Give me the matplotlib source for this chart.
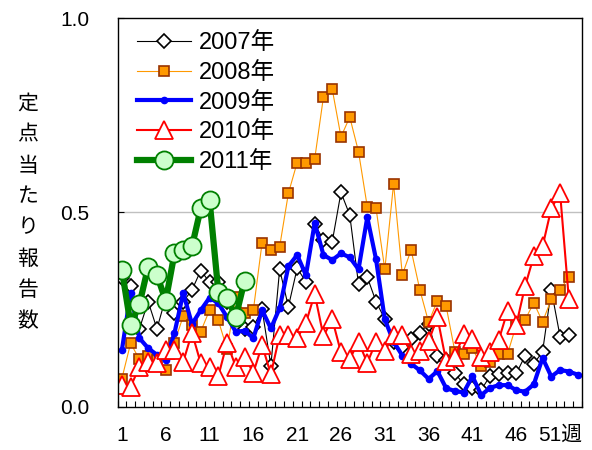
import matplotlib
matplotlib.use('Agg')
import matplotlib.pyplot as plt
import numpy as np

plt.rcParams['font.family'] = ['Liberation Sans', 'Noto Sans CJK JP', 'DejaVu Sans']

# 週ごとの定点当たり報告数
y2007 = [0.33, 0.31, 0.20, 0.27, 0.20, 0.28, 0.24, 0.27, 0.30, 0.35,
         0.32, 0.32, 0.27, 0.23, 0.20, 0.205, 0.25, 0.105, 0.353, 0.257,
         0.356, 0.321, 0.469, 0.429, 0.424, 0.551, 0.493, 0.315, 0.333, 0.270,
         0.225, 0.165, 0.152, 0.175, 0.19, 0.213, 0.13, 0.12, 0.085, 0.058,
         0.048, 0.043, 0.078, 0.083, 0.085, 0.085, 0.13, 0.11, 0.141, 0.30,
         0.18, 0.185]
y2008 = [0.072, 0.163, 0.121, 0.130, 0.12, 0.095, 0.164, 0.233, 0.21, 0.193,
         0.248, 0.222, 0.148, 0.283, 0.24, 0.248, 0.422, 0.403, 0.411, 0.549,
         0.628, 0.626, 0.637, 0.797, 0.817, 0.694, 0.745, 0.656, 0.514, 0.510,
         0.353, 0.573, 0.339, 0.403, 0.300, 0.217, 0.272, 0.258, 0.141, 0.135,
         0.150, 0.104, 0.115, 0.135, 0.135, 0.210, 0.223, 0.267, 0.218, 0.276,
         0.300, 0.334]
y2009 = [0.145, 0.293, 0.176, 0.150, 0.133, 0.12, 0.189, 0.292, 0.212, 0.248,
         0.28, 0.266, 0.23, 0.192, 0.195, 0.176, 0.248, 0.201, 0.253, 0.361,
         0.390, 0.338, 0.472, 0.390, 0.377, 0.394, 0.384, 0.353, 0.487, 0.379,
         0.224, 0.167, 0.131, 0.11, 0.093, 0.071, 0.091, 0.047, 0.040, 0.036,
         0.078, 0.029, 0.048, 0.055, 0.055, 0.042, 0.038, 0.057, 0.125, 0.077,
         0.094, 0.090, 0.082]
y2010 = [0.055, 0.051, 0.102, 0.115, 0.113, 0.145, 0.145, 0.115, 0.190, 0.111,
         0.102, 0.078, 0.164, 0.102, 0.128, 0.087, 0.158, 0.083, 0.184, 0.184,
         0.176, 0.215, 0.290, 0.181, 0.225, 0.139, 0.122, 0.167, 0.112, 0.167,
         0.143, 0.184, 0.185, 0.136, 0.143, 0.168, 0.23, 0.116, 0.127, 0.187,
         0.173, 0.127, 0.140, 0.171, 0.246, 0.21, 0.309, 0.387, 0.412, 0.510,
         0.550, 0.276]
y2011 = [0.352, 0.21, 0.263, 0.36, 0.339, 0.272, 0.394, 0.403, 0.412, 0.51,
         0.532, 0.296, 0.279, 0.231, 0.324]

week_ticks = [1, 6, 11, 16, 21, 26, 31, 36, 41, 46, 51]
week_labels = ['1', '6', '11', '16', '21', '26', '31', '36', '41', '46', '51週']
ylabel = '定点当たり報告数'

fig = plt.figure(figsize=(5.92, 4.5), dpi=100)
ax = fig.add_axes([117.5 / 592, 1 - 406.5 / 450, 464.5 / 592, 388.5 / 450])

def wk(v):
    return np.arange(1, len(v) + 1)

ax.plot(wk(y2007), y2007, '-', color='black', lw=0.8, marker='D', ms=7.5,
        mfc='white', mec='black', mew=1.2, label='2007年')
ax.plot(wk(y2008), y2008, '-', color='#FF9900', lw=0.8, marker='s', ms=7,
        mfc='#FF9900', mec='#993300', mew=1.2, label='2008年')
ax.plot(wk(y2009), y2009, '-', color='#0000FF', lw=3, marker='o', ms=4.5,
        mfc='#0000FF', mec='#0000FF', label='2009年')
ax.plot(wk(y2010), y2010, '-', color='#FF0000', lw=1.5, marker='^', ms=13.5,
        mfc='white', mec='#FF0000', mew=1.3, label='2010年')
ax.plot(wk(y2011), y2011, '-', color='#008000', lw=4.5, marker='o', ms=13,
        mfc='#CCFFCC', mec='#008000', mew=1.3, label='2011年')

ax.set_xlim(0.5, 53.5)
ax.set_ylim(0, 1.0)
ax.axhline(0.5, color='#C0C0C0', lw=1, zorder=0)

ax.set_xticks(week_ticks)
ax.set_xticklabels(week_labels, fontsize=15)
ax.set_xticks(np.arange(0.5, 54, 1), minor=True)
ax.tick_params(axis='x', which='major', length=0, pad=14)
ax.tick_params(axis='x', which='minor', direction='in', length=4.5, width=0.8)
ax.set_yticks([0, 0.5, 1.0])
ax.set_yticklabels(['0.0', '0.5', '1.0'], fontsize=15)
ax.tick_params(axis='y', direction='in', length=4, width=0.8, pad=20)
for sp in ax.spines.values():
    sp.set_linewidth(1)

for i, ch in enumerate(ylabel):
    fig.text(28 / 592, 1 - (104 + i * 31) / 450, ch, fontsize=15,
             ha='center', va='center')

ax.legend(loc='upper left', bbox_to_anchor=(137 / 592, 1 - 32 / 450),
          bbox_transform=fig.transFigure, frameon=False, fontsize=17,
          handlelength=2.3, handletextpad=0.3, labelspacing=0.33,
          borderpad=0, borderaxespad=0)

fig.savefig('out.png', dpi=100)
